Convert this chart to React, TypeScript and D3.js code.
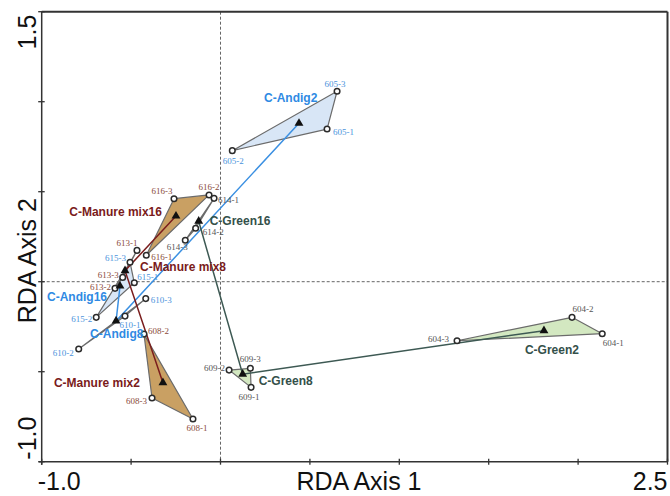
import * as d3 from "d3";
import React from "react";

// groups (treatment + sampling day)
const groups = [
  "C-Andig2", "C-Andig8", "C-Andig16",
  "C-Manure mix2", "C-Manure mix8", "C-Manure mix16",
  "C-Green2", "C-Green8", "C-Green16",
];
const groupFamily = ["andig", "andig", "andig", "manure", "manure", "manure", "green", "green", "green"];
const centroidX = [0.439, -0.584, -0.562, -0.322, -0.534, -0.249, 1.809, 0.124, -0.122];
const centroidY = [0.880, -0.218, -0.024, -0.561, 0.061, 0.365, -0.272, -0.514, 0.336];

// samples
const sampleIds = [
  "605-1", "605-2", "605-3",
  "610-1", "610-2", "610-3",
  "615-1", "615-2", "615-3",
  "608-1", "608-2", "608-3",
  "613-1", "613-2", "613-3",
  "616-1", "616-2", "616-3",
  "604-1", "604-2", "604-3",
  "609-1", "609-2", "609-3",
  "614-1", "614-2", "614-3",
];
const sampleGroup = [
  0, 0, 0, 1, 1, 1, 2, 2, 2,
  3, 3, 3, 4, 4, 4, 5, 5, 5,
  6, 6, 6, 7, 7, 7, 8, 8, 8,
];
const axis1 = [
  0.596, 0.066, 0.652,
  -0.534, -0.793, -0.418,
  -0.482, -0.695, -0.506,
  -0.154, -0.428, -0.383,
  -0.467, -0.590, -0.547,
  -0.415, -0.064, -0.260,
  2.135, 1.966, 1.323,
  0.171, 0.048, 0.167,
  -0.036, -0.139, -0.197,
];
const axis2 = [
  0.848, 0.728, 1.058,
  -0.191, -0.374, -0.094,
  -0.006, -0.198, 0.108,
  -0.763, -0.291, -0.646,
  0.174, -0.037, 0.024,
  0.147, 0.482, 0.461,
  -0.289, -0.198, -0.328,
  -0.587, -0.491, -0.481,
  0.463, 0.297, 0.230,
];

// time trajectories (16 -> 8 -> 2)
const trajectories = [
  ["C-Andig16", "C-Andig8", "C-Andig2"],
  ["C-Manure mix16", "C-Manure mix8", "C-Manure mix2"],
  ["C-Green16", "C-Green8", "C-Green2"],
];

const xTicks = [-1, -0.5, 0, 0.5, 1, 1.5, 2, 2.5];
const yTicks = [-1, -0.5, 0, 0.5, 1, 1.5];

const W = 670, H = 496;
const m = { left: 41.7, right: 667.5, top: 11.7, bottom: 461.7 };

const style: Record<string, { fill: string; line: string; label: string; sample: string }> = {
  andig: { fill: "#d8e6f6", line: "#3b90e2", label: "#2f8ae3", sample: "#4b93dc" },
  manure: { fill: "#c9a063", line: "#7a1d1d", label: "#7a1b1b", sample: "#8a4b3b" },
  green: { fill: "#d3e8c1", line: "#3d5953", label: "#34504a", sample: "#555555" },
};

// label placement (pixels relative to the mark)
const groupLabelPos: Record<string, [number, number, string]> = {
  "C-Andig2": [-35, -21, "start"],
  "C-Andig8": [-26, 17, "start"],
  "C-Andig16": [-13, 15, "end"],
  "C-Manure mix2": [-23, 4, "end"],
  "C-Manure mix8": [15, 0, "start"],
  "C-Manure mix16": [-14, 0, "end"],
  "C-Green2": [8, 23, "middle"],
  "C-Green8": [16, 11, "start"],
  "C-Green16": [11, 4, "start"],
};
const sampleLabelPos: Record<string, [number, number, string]> = {
  "605-3": [-2, -4, "middle"], "605-1": [6, 6, "start"], "605-2": [1, 13, "middle"],
  "616-3": [-12, -5, "middle"], "616-2": [0, -5, "middle"], "616-1": [5, 5, "start"],
  "614-1": [4, 5, "start"], "614-2": [7, 7, "start"], "614-3": [-8, 10, "middle"],
  "613-1": [-10, -4, "middle"], "613-3": [-4, 1, "end"], "613-2": [-4, 2, "end"],
  "615-3": [-4, -1, "end"], "615-1": [3, -3, "start"], "615-2": [-4, 5, "end"],
  "610-3": [5, 4, "start"], "610-1": [5, 12, "middle"], "610-2": [-5, 7, "end"],
  "608-2": [4, 0, "start"], "608-3": [-5, 6, "end"], "608-1": [4, 12, "middle"],
  "609-2": [-4, 1, "end"], "609-3": [0, -6, "middle"], "609-1": [-2, 13, "middle"],
  "604-2": [11, -5, "middle"], "604-1": [11, 12, "middle"], "604-3": [-8, 1, "end"],
};

const sans = "'Liberation Sans', Arial, sans-serif";
const serif = "'Liberation Serif', 'Times New Roman', serif";

export default function App() {
  const x = d3.scaleLinear().domain([-1, 2.5]).range([m.left, m.right]);
  const y = d3.scaleLinear().domain([-1, 1.5]).range([m.bottom, m.top]);
  const line = d3.line<[number, number]>();

  const cx = (g: string) => x(centroidX[groups.indexOf(g)]);
  const cy = (g: string) => y(centroidY[groups.indexOf(g)]);

  return (
    <svg width={W} height={H} style={{ position: "absolute", left: 0, top: 0, background: "#fff" }}>
      {/* zero lines */}
      <line x1={x(0)} x2={x(0)} y1={m.top} y2={m.bottom} stroke="#666" strokeWidth={1} strokeDasharray="3,2" />
      <line x1={m.left} x2={m.right} y1={y(0)} y2={y(0)} stroke="#666" strokeWidth={1} strokeDasharray="3,2" />

      {/* hulls */}
      {groups.map((g, gi) => {
        const pts = sampleIds
          .map((_, i) => i)
          .filter((i) => sampleGroup[i] === gi)
          .map((i) => [x(axis1[i]), y(axis2[i])] as [number, number]);
        return (
          <path key={g} d={line(pts) + "Z"} fill={style[groupFamily[gi]].fill}
            stroke="#6b6b6b" strokeWidth={1.2} strokeLinejoin="round" />
        );
      })}

      {/* trajectories */}
      {trajectories.map((t, ti) => {
        const fam = groupFamily[groups.indexOf(t[0])];
        return (
          <path key={ti} d={line(t.map((g) => [cx(g), cy(g)]))!} fill="none"
            stroke={style[fam].line} strokeWidth={1.5} />
        );
      })}

      {/* samples */}
      {sampleIds.map((id, i) => (
        <circle key={id} cx={x(axis1[i])} cy={y(axis2[i])} r={2.8} fill="#fff" stroke="#2b2b2b" strokeWidth={1.5} />
      ))}

      {/* centroids */}
      {groups.map((g) => (
        <path key={g} transform={`translate(${cx(g)},${cy(g)})`}
          d={d3.symbol(d3.symbolTriangle, 34)()!} fill="#111" />
      ))}

      {/* sample labels */}
      {sampleIds.map((id, i) => {
        const [dx, dy, anchor] = sampleLabelPos[id];
        return (
          <text key={id} x={x(axis1[i]) + dx} y={y(axis2[i]) + dy} textAnchor={anchor}
            fontFamily={serif} fontSize={9} fill={style[groupFamily[sampleGroup[i]]].sample}>
            {id}
          </text>
        );
      })}

      {/* group labels */}
      {groups.map((g, gi) => {
        const [dx, dy, anchor] = groupLabelPos[g];
        return (
          <text key={g} x={cx(g) + dx} y={cy(g) + dy} textAnchor={anchor} fontFamily={sans}
            fontSize={12} fontWeight="bold" fill={style[groupFamily[gi]].label}>
            {g}
          </text>
        );
      })}

      {/* frame */}
      <line x1={m.left} x2={m.right} y1={m.top} y2={m.top} stroke="#333" strokeWidth={2} />
      <line x1={m.right} x2={m.right} y1={m.top} y2={m.bottom} stroke="#333" strokeWidth={2} />
      <line x1={m.left} x2={m.left} y1={m.top} y2={m.bottom + 3} stroke="#333" strokeWidth={1.5} />
      <line x1={m.left - 3} x2={m.right} y1={m.bottom} y2={m.bottom} stroke="#333" strokeWidth={1.5} />

      {xTicks.map((t) => (
        <line key={t} x1={x(t)} x2={x(t)} y1={m.bottom - 3} y2={m.bottom + 3} stroke="#333" strokeWidth={1.3} />
      ))}
      {yTicks.map((t) => (
        <line key={t} x1={m.left - 3.5} x2={m.left + 3} y1={y(t)} y2={y(t)} stroke="#333" strokeWidth={1.3} />
      ))}

      {/* axis text */}
      <g fontFamily={sans} fontSize={25} fill="#111">
        <text x={x(-1) - 4} y={490}>-1.0</text>
        <text x={x(2.5)} y={490} textAnchor="end">2.5</text>
        <text x={359} y={490} textAnchor="middle">RDA Axis 1</text>
        <text transform={`translate(36,${y(1.5) + 3}) rotate(-90)`} textAnchor="end">1.5</text>
        <text transform={`translate(36,${y(-1) - 2}) rotate(-90)`} textAnchor="start">-1.0</text>
        <text transform={`translate(36,${(m.top + m.bottom) / 2 + 24}) rotate(-90)`} textAnchor="middle">RDA Axis 2</text>
      </g>
    </svg>
  );
}
